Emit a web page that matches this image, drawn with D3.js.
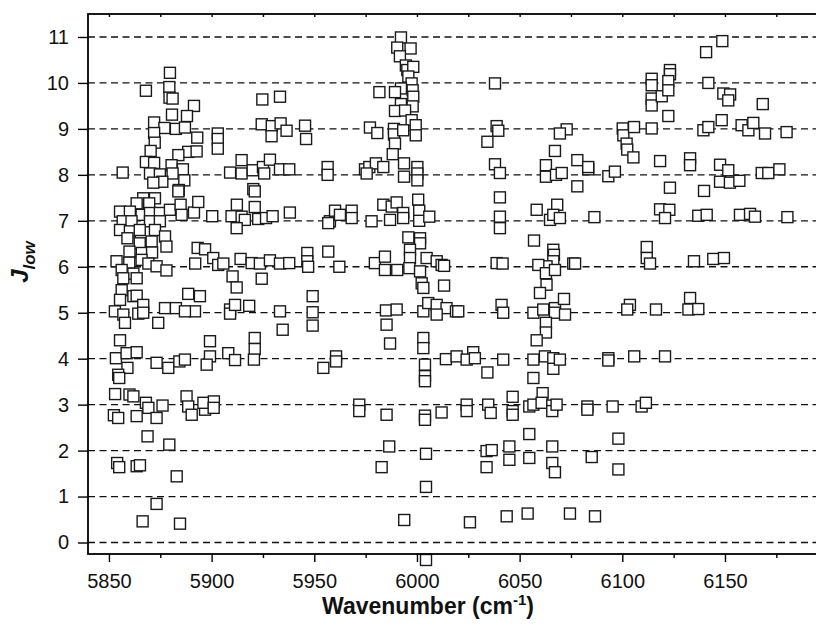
<!DOCTYPE html>
<html><head><meta charset="utf-8">
<script src="https://cdn.jsdelivr.net/npm/d3@7"></script>
<style>body{margin:0;background:#fff}svg{display:block}</style>
</head><body>
<svg id="chart" width="816" height="630"></svg>
<script>
// ---- data ----
const yTicks = [0,1,2,3,4,5,6,7,8,9,10,11];
const xMajorTicks = [5850,5900,5950,6000,6050,6100,6150];
const xMinorTicks = [5875,5925,5975,6025,6075,6125,6175];
const xTitle = "Wavenumber (cm";
const xTitleSup = "-1";
const yTitle = "J";
const yTitleSub = "low";

const wavenumber = [
5879.7,5868.0,5879.4,5879.5,5881.0,5891.4,5880.7,5888.0,5872.0,5882.6,5877.0,5887.0,5872.0,5893.0,5903.0,5903.0,5903.0,5872.3,5888.6,5892.7,5883.8,5870.3,5868.0,5872.0,5880.5,5886.0,5856.7,5870.0,5874.8,5881.0,5876.0,5886.7,5871.6,5884.0,5914.6,5909.0,5914.6,5920.0,5925.0,5928.4,5933.3,5937.8,5920.3,5925.6,5924.7,5933.3,5924.4,5929.3,5933.6,5936.5,5945.5,5929.2,5946.0,5956.5,5956.5,
5866.7,5872.4,5863.5,5869.6,5883.8,5921.0,5855.4,5860.2,5865.9,5870.0,5874.8,5879.7,5884.9,5885.4,5891.4,5893.5,5856.7,5861.0,5870.0,5874.8,5900.3,5909.7,5912.3,5914.6,5916.2,5921.0,5922.7,5926.5,5929.7,5938.1,5912.2,5855.4,5860.2,5865.0,5872.4,5877.3,5859.0,5865.0,5870.8,5878.0,5860.0,5866.0,5871.0,5853.7,5859.9,5865.9,5869.2,5873.2,5878.0,5856.2,5861.9,5857.0,5863.5,5893.2,5896.8,5892.0,5900.8,5903.2,5905.7,5910.2,5912.2,5914.1,5919.5,5923.5,5928.4,5933.3,5937.8,5924.4,5946.6,5946.6,5947.0,5856.2,5855.4,5861.9,5863.5,5866.7,5852.9,5857.0,5864.3,5866.7,5857.8,5874.0,5877.3,5882.6,5888.6,5894.3,5891.9,5887.0,5909.0,5909.0,5911.4,5918.3,5933.3,5934.6,5949.2,5949.2,5949.2,5855.4,5853.4,5858.6,5863.5,5859.0,5854.5,5873.2,5878.9,5884.3,5887.0,5899.2,5899.2,5897.6,5908.1,5911.4,5921.0,5921.0,5920.6,5954.4,
5855.0,5853.0,5860.0,5861.9,5868.0,5869.2,5876.1,5852.4,5854.5,5863.5,5873.2,5887.8,5888.6,5890.3,5896.8,5896.0,5901.1,5901.0,5868.8,5879.4,5854.0,5855.0,5863.5,5865.1,5883.0,5873.2,5866.4,5884.6,
5992.2,5990.4,5996.9,5991.7,5994.6,5995.3,5998.2,5995.8,5997.4,5992.2,5997.9,5998.2,5981.7,5989.3,5997.9,5992.2,5989.3,5994.2,5997.4,5977.1,5980.7,5988.8,5988.8,5993.3,5999.4,5999.4,5989.3,5988.2,5974.7,5976.8,5980.0,5975.5,5983.6,5993.7,5993.7,6000.2,6000.2,6000.2,6038.0,6038.8,6039.6,6034.3,6038.0,6040.4,6062.8,6062.8,
5957.6,5960.1,5962.5,5968.2,5968.2,5977.9,5983.6,5987.7,5990.1,5986.9,5993.3,5993.3,5956.8,6000.6,6001.1,6001.1,6006.0,6040.4,6040.4,6040.4,6058.3,6064.8,6068.3,6066.4,5956.8,5962.2,5979.5,5984.4,5984.4,5990.4,5995.8,6001.5,6001.5,5996.6,5996.6,5996.3,6001.5,6002.3,6003.1,6004.7,6009.6,6012.0,6013.2,6013.2,6038.8,6041.7,6057.0,6066.4,6066.7,6066.4,6063.1,6059.1,6062.8,6063.1,6059.9,5984.9,5990.1,5985.2,5986.9,6003.1,6005.5,6009.6,6014.4,6019.0,6020.1,6009.6,6041.2,6042.0,6056.7,6061.5,6067.2,6067.2,6062.8,6062.8,6058.3,5960.6,5960.6,6003.1,6003.1,6003.9,6003.9,6014.1,6019.3,6027.4,6024.2,6028.2,6034.3,6042.0,6056.7,6062.3,6066.4,6066.4,6069.6,6056.7,
6003.9,6061.2,5971.9,5971.9,5985.2,6003.9,6003.9,6012.0,6024.2,6024.2,6034.7,6035.9,6046.6,6046.6,6046.6,6054.7,6056.7,6060.7,6065.9,6065.9,6054.7,5986.5,5982.8,6004.4,6033.9,6036.4,6033.9,6045.0,6045.0,6054.7,6065.9,6065.9,6067.2,6004.4,5993.8,6025.8,6043.7,6053.9,6004.4,
6068.0,6083.0,6083.0,6095.3,6109.4,6111.5,6085.1,6098.1,6098.1,6074.5,6086.7,
6148.7,6140.8,6123.2,6123.2,6114.3,6114.3,6114.3,6114.3,6119.2,6122.4,6122.4,6141.9,6149.2,6152.5,6151.6,6168.4,6122.4,6072.9,6069.6,6100.2,6100.5,6105.7,6102.1,6114.3,6139.5,6141.9,6148.4,6158.1,6161.4,6163.8,6169.5,6180.0,6067.2,6078.1,6083.4,6083.4,6067.7,6070.5,6093.2,6096.4,6102.4,6105.4,6118.4,6133.0,6133.0,6147.6,6151.6,6147.6,6152.4,6157.0,6167.9,6171.1,6176.5,6078.1,6123.2,6139.8,
6069.6,6086.4,6118.4,6122.9,6120.8,6137.0,6141.1,6157.3,6162.2,6164.6,6180.4,6067.2,6076.1,6077.0,6111.9,6111.9,6113.5,6134.9,6144.3,6149.5,6071.6,6072.1,6103.7,6102.4,6116.4,6133.0,6132.2,6137.0,6093.2,6093.2,6105.8,6120.8
];
const jLow = [
10.22,9.83,9.91,9.68,9.66,9.50,9.31,9.28,9.14,9.00,9.02,9.03,8.91,8.81,8.90,8.78,8.57,8.70,8.50,8.51,8.43,8.52,8.28,8.26,8.21,8.12,8.05,8.03,8.01,8.03,7.85,7.88,7.83,7.67,8.32,8.05,8.03,8.10,8.17,8.33,8.12,8.12,7.69,8.03,9.64,9.70,9.10,9.06,9.12,8.96,9.07,8.84,8.78,8.17,8.00,
7.49,7.49,7.38,7.38,7.64,7.64,7.20,7.20,7.13,7.17,7.17,7.24,7.35,7.13,7.18,7.41,6.99,6.99,6.99,6.99,7.10,7.10,7.35,7.09,7.02,7.30,7.04,7.06,7.10,7.18,6.84,6.80,6.77,6.80,6.80,6.66,6.62,6.51,6.55,6.44,6.33,6.30,6.31,6.12,6.09,6.15,6.07,6.01,5.92,5.93,5.85,5.75,5.75,6.41,6.38,6.07,6.19,6.04,6.07,5.79,5.55,6.17,6.08,6.07,6.14,6.07,6.08,5.74,6.30,6.12,6.00,5.49,5.28,5.36,5.37,5.17,5.03,4.96,4.98,5.00,4.78,4.78,5.10,5.10,5.41,5.36,5.03,5.03,5.07,4.98,5.17,5.15,5.03,4.63,5.36,5.01,4.72,4.40,4.01,4.12,4.14,3.80,3.65,3.91,3.80,3.94,3.98,4.38,4.05,3.87,4.12,3.97,4.45,4.21,3.98,3.80,
3.58,3.23,3.22,3.18,3.04,2.93,2.98,2.77,2.71,2.75,2.71,3.18,2.96,2.78,2.89,3.04,3.07,2.93,2.31,2.13,1.73,1.64,1.66,1.68,1.44,0.84,0.46,0.41,
10.99,10.77,10.75,10.58,10.38,10.28,10.35,10.14,9.99,9.88,9.84,9.70,9.80,9.80,9.49,9.54,9.39,9.40,9.19,9.03,8.91,9.00,8.88,8.97,9.08,8.86,8.68,8.45,8.12,8.17,8.25,8.03,8.17,8.25,7.96,8.17,8.03,7.88,9.99,9.06,8.96,8.72,8.23,8.04,8.21,7.96,
6.99,7.22,7.13,7.22,7.06,6.99,7.35,7.31,7.40,7.02,7.17,7.06,6.95,7.46,7.22,7.00,7.09,7.51,7.09,6.84,7.24,7.02,7.35,7.13,6.33,6.00,6.08,6.22,5.93,5.93,6.64,6.62,6.51,6.37,6.19,5.97,5.90,5.64,5.54,6.19,6.12,6.04,6.02,5.59,6.08,6.07,6.57,6.37,6.26,6.12,6.01,6.04,5.86,5.61,5.43,5.05,5.07,4.74,4.33,5.03,5.21,5.17,5.10,5.03,5.03,4.96,5.17,5.00,5.00,5.07,5.10,5.00,4.78,4.57,4.40,4.05,3.94,4.45,4.23,3.87,3.62,3.99,4.05,4.14,3.98,4.01,3.70,3.98,3.98,4.05,4.01,3.78,3.98,3.58,
3.51,3.25,3.00,2.86,2.78,2.76,2.67,2.83,3.00,2.86,3.00,2.82,3.17,2.86,2.78,2.96,3.00,3.04,2.98,2.86,2.36,2.09,1.64,1.93,1.99,2.01,1.64,2.09,1.80,1.84,2.09,1.73,1.53,1.21,0.49,0.44,0.57,0.63,-0.38,
3.00,2.96,2.89,2.96,2.96,3.04,1.86,2.26,1.59,0.63,0.57,
10.91,10.67,10.28,10.19,10.09,9.95,9.66,9.51,9.71,10.04,9.84,10.00,9.77,9.75,9.62,9.54,9.28,8.99,8.90,9.01,8.86,9.04,8.68,9.01,8.97,9.04,9.19,9.08,8.97,9.13,8.90,8.93,8.52,8.32,8.12,8.17,8.00,8.04,7.97,8.07,8.55,8.38,8.30,8.36,8.21,8.22,8.10,7.85,7.83,7.87,8.04,8.04,8.12,7.75,7.72,7.65,
7.06,7.08,7.25,7.24,7.06,7.11,7.13,7.13,7.15,7.09,7.08,5.93,6.07,6.07,6.43,6.19,6.07,6.12,6.17,6.19,5.30,4.96,5.17,5.07,5.07,5.32,5.07,5.08,4.01,3.96,4.05,4.05
];

// ---- layout ----
const svg = d3.select("#chart");
const mLeft = 88, mRight = 818, mTop = 14, mBottom = 554;
const x = d3.scaleLinear().domain([5839.8, 6195.3]).range([mLeft, mRight]);
const y = d3.scaleLinear().domain([-0.25, 11.5]).range([mBottom, mTop]);

// grid
svg.append("g").selectAll("line").data(yTicks).join("line")
  .attr("x1", mLeft).attr("x2", mRight)
  .attr("y1", d => y(d)).attr("y2", d => y(d))
  .attr("stroke", "#111").attr("stroke-width", 1.3)
  .attr("stroke-dasharray", "7,4.5");

// axes
const font = "Liberation Sans, Arial, Helvetica, sans-serif";
const yAxis = svg.append("g").attr("transform", `translate(${mLeft},0)`)
  .call(d3.axisLeft(y).tickValues(yTicks).tickSize(10).tickPadding(9).tickFormat(d3.format("d")));
const xAxis = svg.append("g").attr("transform", `translate(0,${mBottom})`)
  .call(d3.axisBottom(x).tickValues(xMajorTicks).tickSize(8).tickPadding(12).tickFormat(d3.format("d")));
const xMinor = svg.append("g").attr("transform", `translate(0,${mBottom})`)
  .call(d3.axisBottom(x).tickValues(xMinorTicks).tickSize(4).tickFormat(""));
const xTop = svg.append("g").attr("transform", `translate(0,${mTop})`)
  .call(d3.axisTop(x).tickValues(xMajorTicks.concat(xMinorTicks)).tickSize(-3).tickFormat(""));
[yAxis, xAxis, xMinor, xTop].forEach(g => {
  g.select(".domain").remove();
  g.selectAll(".tick line").attr("stroke", "#000").attr("stroke-width", 1.4);
  g.selectAll("text").attr("font-family", font).attr("font-size", 20).attr("fill", "#111");
});

// points
svg.append("g").selectAll("rect").data(wavenumber).join("rect")
  .attr("x", d => x(d) - 5.5)
  .attr("y", (d, i) => y(jLow[i]) - 5.5)
  .attr("width", 11).attr("height", 11)
  .attr("fill", "#fff").attr("stroke", "#1a1a1a").attr("stroke-width", 1.4);

// frame
svg.append("rect").attr("x", mLeft).attr("y", mTop)
  .attr("width", mRight - mLeft).attr("height", mBottom - mTop)
  .attr("fill", "none").attr("stroke", "#000").attr("stroke-width", 1.8);

// titles
const xt = svg.append("text").attr("x", 428).attr("y", 614)
  .attr("text-anchor", "middle").attr("font-family", font)
  .attr("font-weight", "bold").attr("font-size", 23).attr("fill", "#111");
xt.append("tspan").text(xTitle);
xt.append("tspan").attr("dy", -9).attr("font-size", 15).text(xTitleSup);
xt.append("tspan").attr("dy", 9).text(")");

const yt = svg.append("text").attr("transform", `translate(28,262) rotate(-90)`)
  .attr("text-anchor", "middle").attr("font-family", font)
  .attr("font-weight", "bold").attr("font-style", "italic").attr("font-size", 24).attr("fill", "#111");
yt.append("tspan").text(yTitle);
yt.append("tspan").attr("dy", 7).attr("font-size", 17).text(yTitleSub);
</script>
</body></html>
